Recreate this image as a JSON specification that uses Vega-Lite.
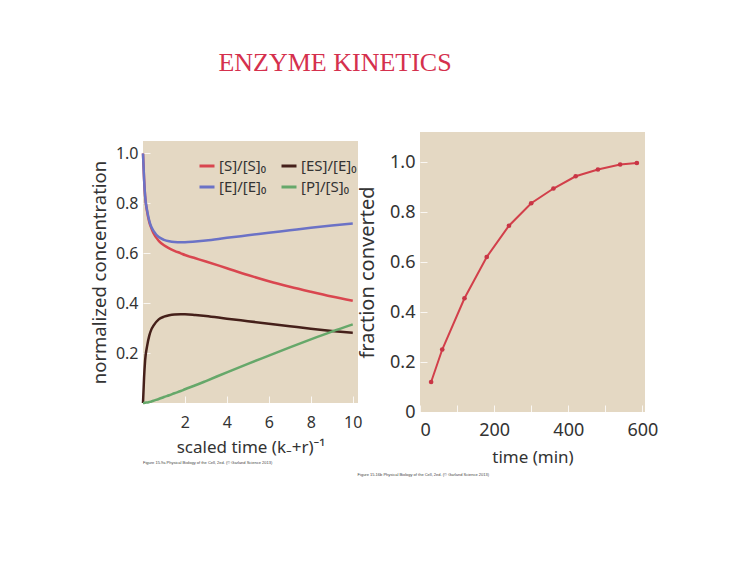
{
  "$schema": "https://vega.github.io/schema/vega-lite/v6.json",
  "background": "white",
  "padding": {"left": 90, "top": 50, "right": 10, "bottom": 10},
  "title": {"text": "ENZYME KINETICS", "font": "Liberation Serif", "fontSize": 26, "fontWeight": "normal", "color": "#d5304d", "anchor": "start", "frame": "bounds", "dx": 128, "offset": 56},
  "config": {
    "view": {"stroke": null, "fill": "#e4d8c3"},
    "axis": {"labelFont": "Noto Sans", "titleFont": "Noto Sans", "labelFontSize": 16, "titleFontSize": 18, "labelColor": "#333333", "titleColor": "#333333", "titleFontWeight": "normal", "domain": false, "grid": false, "tickColor": "#ffffff", "tickOpacity": 0.8, "tickSize": -7, "tickWidth": 1}
  },
  "datasets": {
    "kin": [
      {"t": 0, "S": 1.0, "ES": 0.0, "E": 1.0, "P": 0.0},
      {"t": 0.05, "S": 0.90, "ES": 0.10, "E": 0.90, "P": 0.0},
      {"t": 0.1, "S": 0.83, "ES": 0.17, "E": 0.83, "P": 0.001},
      {"t": 0.2, "S": 0.765, "ES": 0.23, "E": 0.77, "P": 0.002},
      {"t": 0.3, "S": 0.725, "ES": 0.27, "E": 0.73, "P": 0.004},
      {"t": 0.4, "S": 0.70, "ES": 0.295, "E": 0.705, "P": 0.006},
      {"t": 0.5, "S": 0.68, "ES": 0.31, "E": 0.69, "P": 0.009},
      {"t": 0.75, "S": 0.65, "ES": 0.335, "E": 0.665, "P": 0.016},
      {"t": 1, "S": 0.632, "ES": 0.346, "E": 0.654, "P": 0.024},
      {"t": 1.25, "S": 0.62, "ES": 0.352, "E": 0.648, "P": 0.031},
      {"t": 1.5, "S": 0.61, "ES": 0.355, "E": 0.645, "P": 0.039},
      {"t": 1.8, "S": 0.60, "ES": 0.356, "E": 0.644, "P": 0.048},
      {"t": 2, "S": 0.593, "ES": 0.356, "E": 0.644, "P": 0.055},
      {"t": 2.5, "S": 0.58, "ES": 0.353, "E": 0.647, "P": 0.071},
      {"t": 3, "S": 0.567, "ES": 0.349, "E": 0.651, "P": 0.088},
      {"t": 4, "S": 0.54, "ES": 0.338, "E": 0.662, "P": 0.123},
      {"t": 5, "S": 0.513, "ES": 0.328, "E": 0.672, "P": 0.157},
      {"t": 6, "S": 0.488, "ES": 0.318, "E": 0.682, "P": 0.19},
      {"t": 7, "S": 0.466, "ES": 0.308, "E": 0.692, "P": 0.223},
      {"t": 8, "S": 0.446, "ES": 0.298, "E": 0.702, "P": 0.255},
      {"t": 9, "S": 0.427, "ES": 0.289, "E": 0.711, "P": 0.286},
      {"t": 10, "S": 0.41, "ES": 0.281, "E": 0.719, "P": 0.315}
    ],
    "frac": [
      {"time": 30, "f": 0.12},
      {"time": 60, "f": 0.25},
      {"time": 120, "f": 0.455},
      {"time": 180, "f": 0.62},
      {"time": 240, "f": 0.745},
      {"time": 300, "f": 0.835},
      {"time": 360, "f": 0.894},
      {"time": 420, "f": 0.943},
      {"time": 480, "f": 0.97},
      {"time": 540, "f": 0.99},
      {"time": 585, "f": 0.996}
    ]
  },
  "spacing": 62,
  "center": true,
  "bounds": "flush",
  "hconcat": [
    {
      "width": 215,
      "height": 262,
      "title": {"text": "Figure 15.9a Physical Biology of the Cell, 2ed. (© Garland Science 2013)", "orient": "bottom", "anchor": "start", "frame": "group", "fontSize": 4, "fontWeight": "normal", "color": "#444444", "offset": 6},
      "data": {"name": "kin"},
      "transform": [{"fold": ["S", "ES", "E", "P"], "as": ["s", "v"]}],
      "mark": {"type": "line", "strokeWidth": 2.5, "interpolate": "monotone"},
      "encoding": {
        "x": {"field": "t", "type": "quantitative", "scale": {"domain": [0, 10.25], "nice": false, "zero": false}, "axis": {"values": [2, 4, 6, 8, 10], "title": "scaled time (k₋+r)⁻¹", "titleFontSize": 17, "labelPadding": 18, "titlePadding": 9}},
        "y": {"field": "v", "type": "quantitative", "scale": {"domain": [0, 1.05], "nice": false}, "axis": {"values": [0.2, 0.4, 0.6, 0.8, 1.0], "format": ".1f", "title": "normalized concentration", "titleFontSize": 18.5, "labelPadding": 12, "titlePadding": 6}},
        "color": {"field": "s", "type": "nominal", "scale": {"domain": ["S", "E", "ES", "P"], "range": ["#d9464f", "#6b72c6", "#45201a", "#66a86a"]},
          "legend": {"orient": "none", "legendX": 55, "legendY": 25, "columns": 2, "title": null, "symbolType": "stroke", "symbolSize": 225, "symbolStrokeWidth": 3, "labelFont": "Noto Sans", "labelFontSize": 15, "labelColor": "#333333", "columnPadding": 8, "rowPadding": 4, "labelOffset": 3, "padding": 0,
            "labelExpr": "datum.label == 'S' ? '[S]/[S]₀' : datum.label == 'ES' ? '[ES]/[E]₀' : datum.label == 'E' ? '[E]/[E]₀' : '[P]/[S]₀'"}}
      }
    },
    {
      "width": 225,
      "height": 280,
      "title": {"text": "Figure 15.16b Physical Biology of the Cell, 2ed. (© Garland Science 2013)", "orient": "bottom", "anchor": "start", "frame": "bounds", "fontSize": 4, "fontWeight": "normal", "color": "#444444", "offset": 8},
      "data": {"name": "frac"},
      "encoding": {
        "x": {"field": "time", "type": "quantitative", "scale": {"domain": [0, 607], "nice": false}, "axis": {"values": [0, 100, 200, 300, 400, 500, 600], "labelExpr": "datum.value % 200 == 0 ? datum.label : ''", "title": "time (min)", "labelFontSize": 18, "titleFontSize": 17, "labelPadding": 16, "titlePadding": 10}},
        "y": {"field": "f", "type": "quantitative", "scale": {"domain": [0, 1.12], "nice": false}, "axis": {"values": [0, 0.2, 0.4, 0.6, 0.8, 1.0], "labelExpr": "datum.value == 0 ? '0' : format(datum.value, '.1f')", "title": "fraction converted", "labelFontSize": 18, "titleFontSize": 20, "labelPadding": 12, "titlePadding": 12}}
      },
      "layer": [
        {"mark": {"type": "line", "color": "#d23f4a", "strokeWidth": 2}},
        {"mark": {"type": "point", "filled": true, "color": "#c93545", "size": 22, "opacity": 1}}
      ]
    }
  ]
}
